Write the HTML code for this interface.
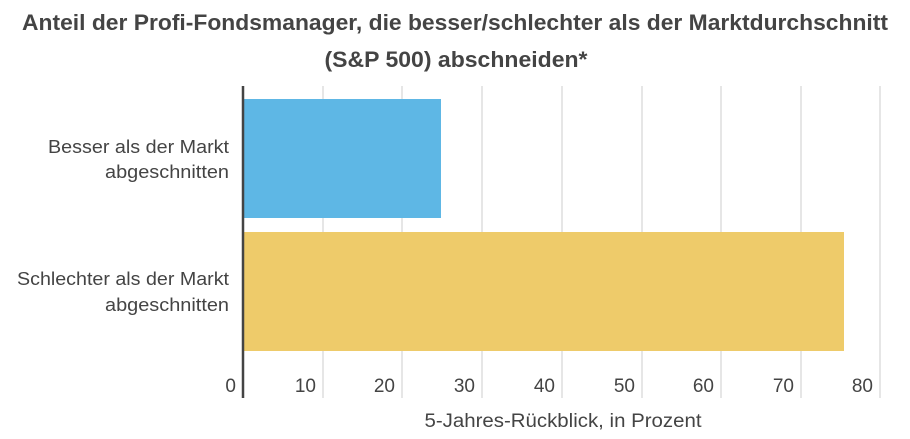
<!DOCTYPE html>
<html><head><meta charset="utf-8"><style>
html,body{margin:0;padding:0;background:#fff;}
svg{display:block;font-family:"Liberation Sans",Arial,sans-serif;}
</style></head><body>
<svg width="910" height="439" viewBox="0 0 910 439" xmlns="http://www.w3.org/2000/svg">
<text x="455" y="30" text-anchor="middle" font-size="22" font-weight="bold" fill="#444" textLength="866" lengthAdjust="spacingAndGlyphs">Anteil der Profi-Fondsmanager, die besser/schlechter als der Marktdurchschnitt</text>
<text x="456" y="67" text-anchor="middle" font-size="22" font-weight="bold" fill="#444" textLength="263" lengthAdjust="spacingAndGlyphs">(S&amp;P 500) abschneiden*</text>
<g stroke="#ddd" stroke-width="1.5">
<line x1="323" y1="86" x2="323" y2="398"/>
<line x1="402" y1="86" x2="402" y2="398"/>
<line x1="482" y1="86" x2="482" y2="398"/>
<line x1="562" y1="86" x2="562" y2="398"/>
<line x1="642" y1="86" x2="642" y2="398"/>
<line x1="721" y1="86" x2="721" y2="398"/>
<line x1="801" y1="86" x2="801" y2="398"/>
<line x1="880" y1="86" x2="880" y2="398"/>
</g>
<rect x="243" y="99" width="198" height="119" fill="#5eb7e5"/>
<rect x="243" y="232" width="601" height="119" fill="#eecb6a"/>
<line x1="243" y1="86" x2="243" y2="398" stroke="#444" stroke-width="2.5"/>
<g font-size="19" fill="#444" text-anchor="end">
<text x="236" y="392">0</text>
<text x="316" y="392">10</text>
<text x="395" y="392">20</text>
<text x="475" y="392">30</text>
<text x="555" y="392">40</text>
<text x="635" y="392">50</text>
<text x="714" y="392">60</text>
<text x="794" y="392">70</text>
<text x="873" y="392">80</text>
</g>
<g font-size="18.5" fill="#444" text-anchor="end">
<text x="229" y="153" textLength="181" lengthAdjust="spacingAndGlyphs">Besser als der Markt</text>
<text x="229" y="178" textLength="124" lengthAdjust="spacingAndGlyphs">abgeschnitten</text>
<text x="229" y="285" textLength="212" lengthAdjust="spacingAndGlyphs">Schlechter als der Markt</text>
<text x="229" y="311" textLength="124" lengthAdjust="spacingAndGlyphs">abgeschnitten</text>
</g>
<text x="563" y="427" text-anchor="middle" font-size="19" fill="#444" textLength="277" lengthAdjust="spacingAndGlyphs">5-Jahres-Rückblick, in Prozent</text>
</svg>
</body></html>
